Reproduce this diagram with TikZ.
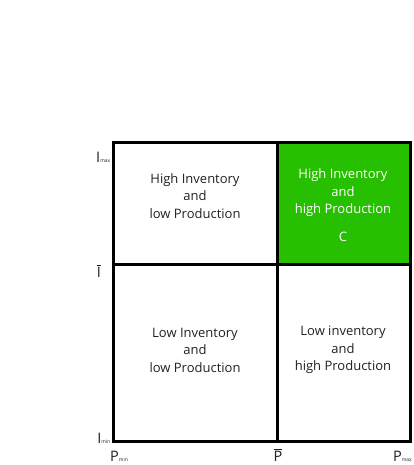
\documentclass[tikz,border=0pt]{standalone}
\usepackage{fontspec}
\setmainfont{Open Sans}
\definecolor{cellgreen}{HTML}{26C000}
\definecolor{txt}{HTML}{231F20}
\newcommand{\barlab}[1]{\ensuremath{\overline{\mbox{#1}}}}
\begin{document}
\begin{tikzpicture}[x=1pt,y=-1pt,
  celltext/.style={align=center,font=\fontsize{13}{17.5}\selectfont,text=txt},
  axlab/.style={font=\fontsize{14.5}{14.5}\selectfont,text=txt,inner sep=0pt},
  grid/.style={line width=3pt,black}]
\useasboundingbox (0,0) rectangle (413,465);
\fill[cellgreen] (277,143) rectangle (410,264);
\coordinate (tl) at (113,143);
\coordinate (tr) at (410,143);
\coordinate (bl) at (113,441);
\coordinate (br) at (410,441);
\coordinate (tm) at (277,143);
\coordinate (bm) at (277,441);
\coordinate (lm) at (113,264);
\coordinate (rm) at (410,264);
\draw[grid] (tl) rectangle (br);
\draw[grid] (tm) -- (bm);
\draw[grid] (lm) -- (rm);
\node[celltext] (c1) at (195,196) {High Inventory\\and\\low Production};
\node[celltext,text=white] (c2) at (343,205) {High Inventory\\and\\high Production\\[10pt]C};
\node[celltext] (c3) at (195,350) {Low Inventory\\and\\low Production};
\node[celltext] (c4) at (343,350) {Low inventory\\and\\high Production};
\node[axlab,anchor=base east] (imax) at (110.5,163) {I{\fontsize{5}{5}\selectfont max}};
\node[axlab,anchor=base] (ibar) at (99,277) {\barlab{I}};
\node[axlab,anchor=base east] (imin) at (110.5,443) {I{\fontsize{5}{5}\selectfont min}};
\node[axlab,anchor=base west] (pmin) at (110,461) {P{\fontsize{5}{5}\selectfont min}};
\node[axlab,anchor=base] (pbar) at (278,461) {\barlab{P}};
\node[axlab,anchor=base east] (pmax) at (412,461) {P{\fontsize{5}{5}\selectfont max}};
\end{tikzpicture}
\end{document}
